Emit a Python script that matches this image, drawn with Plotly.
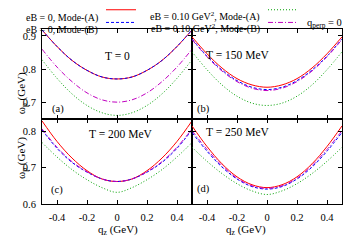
import plotly.graph_objects as go

# ---------------- data ----------------
q_z = [-0.5, -0.4, -0.3, -0.2, -0.1, 0.0, 0.1, 0.2, 0.3, 0.4, 0.5]

# panel (a) T = 0
a_eB0_A = [0.918, 0.868, 0.826, 0.796, 0.776, 0.770, 0.776, 0.796, 0.826, 0.868, 0.918]
a_eB0_B = [0.918, 0.868, 0.826, 0.796, 0.776, 0.770, 0.776, 0.796, 0.826, 0.868, 0.918]
a_eB1_A = [0.828, 0.772, 0.725, 0.690, 0.668, 0.660, 0.668, 0.690, 0.725, 0.772, 0.828]
a_eB1_B = [0.860, 0.806, 0.762, 0.728, 0.707, 0.700, 0.707, 0.728, 0.762, 0.806, 0.860]
# panel (b) T = 150 MeV
b_eB0_A = [0.897, 0.846, 0.803, 0.771, 0.752, 0.745, 0.752, 0.771, 0.803, 0.846, 0.897]
b_eB0_B = [0.891, 0.839, 0.797, 0.765, 0.745, 0.738, 0.745, 0.765, 0.797, 0.839, 0.891]
b_eB1_A = [0.852, 0.798, 0.752, 0.718, 0.697, 0.690, 0.697, 0.718, 0.752, 0.798, 0.852]
b_eB1_B = [0.889, 0.837, 0.794, 0.762, 0.742, 0.735, 0.742, 0.762, 0.794, 0.837, 0.889]
# panel (c) T = 200 MeV
c_eB0_A = [0.830, 0.773, 0.727, 0.692, 0.669, 0.662, 0.669, 0.692, 0.727, 0.773, 0.830]
c_eB0_B = [0.805, 0.754, 0.715, 0.688, 0.669, 0.662, 0.669, 0.688, 0.715, 0.754, 0.805]
c_eB1_A = [0.770, 0.730, 0.695, 0.667, 0.645, 0.632, 0.645, 0.667, 0.695, 0.730, 0.770]
c_eB1_B = [0.808, 0.757, 0.717, 0.689, 0.669, 0.662, 0.669, 0.689, 0.717, 0.757, 0.808]
# panel (d) T = 250 MeV
d_eB0_A = [0.816, 0.759, 0.711, 0.675, 0.653, 0.645, 0.653, 0.675, 0.711, 0.759, 0.816]
d_eB0_B = [0.798, 0.746, 0.702, 0.669, 0.648, 0.641, 0.648, 0.669, 0.702, 0.746, 0.798]
d_eB1_A = [0.757, 0.718, 0.684, 0.656, 0.636, 0.626, 0.636, 0.656, 0.684, 0.718, 0.757]
d_eB1_B = [0.803, 0.751, 0.706, 0.671, 0.650, 0.643, 0.650, 0.671, 0.706, 0.751, 0.803]

panel_titles = ["T = 0", "T = 150 MeV", "T = 200 MeV", "T = 250 MeV"]
panel_labels = ["(a)", "(b)", "(c)", "(d)"]
series_names = ["eB = 0, Mode-(A)", "eB = 0, Mode-(B)",
                "eB = 0.10 GeV<sup>2</sup>, Mode-(A)", "eB = 0.10 GeV<sup>2</sup>, Mode-(B)"]

x_tickvals = [-0.4, -0.2, 0.0, 0.2, 0.4]
x_ticktext = ["-0.4", "-0.2", "0", "0.2", "0.4"]
y_top_ticks = [0.7, 0.8, 0.9]
y_bot_ticks = [0.6, 0.7, 0.8]

# ---------------- style ----------------
W, H = 350, 245
FONT = "Liberation Serif, Times New Roman, serif"
colors = ["#ff0000", "#0000ff", "#00a000", "#c000c0"]
dashes = ["solid", "3px,2px", "1px,2px", "5px,2px,1px,2px"]

def px(x):
    return x / W

def py(y):
    return 1 - y / H

L, M, R = 42, 192, 342
T, MID, B = 30, 121.7, 209

panels = [
    (a_eB0_A, a_eB0_B, a_eB1_A, a_eB1_B),
    (b_eB0_A, b_eB0_B, b_eB1_A, b_eB1_B),
    (c_eB0_A, c_eB0_B, c_eB1_A, c_eB1_B),
    (d_eB0_A, d_eB0_B, d_eB1_A, d_eB1_B),
]

fig = go.Figure()
for i, series in enumerate(panels):
    xa = "x" if i == 0 else f"x{i+1}"
    ya = "y" if i == 0 else f"y{i+1}"
    for j, vals in enumerate(series):
        fig.add_trace(go.Scatter(
            x=q_z, y=vals, mode="lines", xaxis=xa, yaxis=ya,
            line=dict(color=colors[j], width=1, dash=dashes[j], shape="spline", smoothing=1.0),
            showlegend=False, hoverinfo="skip"))

xdoms = [[px(L), px(M)], [px(M), px(R)]]
ydoms = [[py(MID), py(T)], [py(B), py(MID)]]
yranges = [[0.65, 0.92], [0.6, 0.836]]
yticks = [y_top_ticks, y_bot_ticks]

common = dict(showline=True, linecolor="black", linewidth=1, mirror="ticks",
              ticks="inside", ticklen=4, tickcolor="black", tickwidth=1,
              showgrid=False, zeroline=False, fixedrange=True,
              tickfont=dict(family=FONT, size=10.5, color="black"))

layout = dict(width=W, height=H, margin=dict(l=0, r=0, t=0, b=0),
              paper_bgcolor="white", plot_bgcolor="white",
              font=dict(family=FONT, size=10.5, color="black"))

for i in range(4):
    row, col = divmod(i, 2)
    xk = "xaxis" if i == 0 else f"xaxis{i+1}"
    yk = "yaxis" if i == 0 else f"yaxis{i+1}"
    ya_anchor = "y" if i == 0 else f"y{i+1}"
    xa_anchor = "x" if i == 0 else f"x{i+1}"
    layout[xk] = dict(common, domain=xdoms[col], range=[-0.5, 0.5], anchor=ya_anchor,
                      tickvals=x_tickvals, ticktext=x_ticktext,
                      showticklabels=(row == 1), ticklabelstandoff=4)
    layout[yk] = dict(common, domain=ydoms[row], range=yranges[row], anchor=xa_anchor,
                      tickvals=yticks[row], ticktext=[f"{v:.1f}" for v in yticks[row]],
                      showticklabels=(col == 0), ticklabelstandoff=3)

fig.update_layout(**layout)

ann = []
# panel titles and labels
title_pos = [(117, 49), (272, 48), (121, 137), (272, 135)]
label_pos = [(50, 112), (203, 112), (49, 203), (203, 202)]
for i in range(4):
    ann.append(dict(x=px(title_pos[i][0]), y=py(title_pos[i][1]), xref="paper", yref="paper",
                    text=panel_titles[i], showarrow=False, font=dict(family=FONT, size=11.5)))
    ann.append(dict(x=px(label_pos[i][0]), y=py(label_pos[i][1]), xref="paper", yref="paper",
                    text=panel_labels[i], showarrow=False, font=dict(family=FONT, size=10.5)))
# axis titles
for yc in (72, 162):
    ann.append(dict(x=px(13), y=py(yc), xref="paper", yref="paper", textangle=-90,
                    text="ω<sub>p</sub> (GeV)", showarrow=False, font=dict(family=FONT, size=11)))
for xc in (118, 268):
    ann.append(dict(x=px(xc), y=py(227), xref="paper", yref="paper", yanchor="top",
                    text="q<sub>z</sub> (GeV)", showarrow=False, font=dict(family=FONT, size=11)))
# legend (text y, sample y separate: superscripted texts have taller boxes)
leg = [(100, 10, 10, 106, 136), (100, 22.5, 23, 106, 136),
       (262, 8, 10, 268, 298), (262, 20.5, 23, 268, 296)]
shapes = []
for j in range(4):
    tx, ty, ly, x0, x1 = leg[j]
    ann.append(dict(x=px(tx), y=py(ty), xref="paper", yref="paper", xanchor="right",
                    text=series_names[j], showarrow=False, font=dict(family=FONT, size=10)))
    shapes.append(dict(type="line", xref="paper", yref="paper", x0=px(x0), x1=px(x1),
                       y0=py(ly), y1=py(ly), line=dict(color=colors[j], width=1, dash=dashes[j])))
ann.append(dict(x=px(305), y=py(15), xref="paper", yref="paper", xanchor="left",
                text="q<sub>perp</sub> = 0", showarrow=False, font=dict(family=FONT, size=10.5)))

fig.update_layout(annotations=ann, shapes=shapes)
fig.write_html("out.html", config={"displayModeBar": False},
               post_script="document.body.style.margin='0';document.body.style.padding='0';")
